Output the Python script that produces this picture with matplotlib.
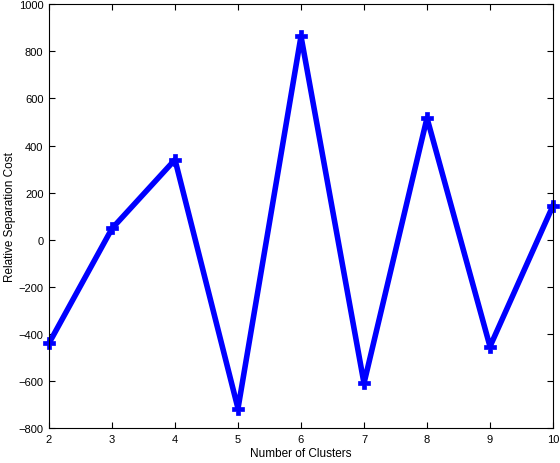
import numpy as np
import matplotlib
matplotlib.use('Agg')
import matplotlib.pyplot as plt

plt.rcParams['font.family'] = ['Liberation Sans', 'DejaVu Sans']

clusters = [2, 3, 4, 5, 6, 7, 8, 9, 10]
cost = [-439, 48, 340, -716, 864, -609, 517, -453, 145]

fig = plt.figure(figsize=(5.6, 4.64), dpi=100)
ax = fig.add_axes([0.0875, 0.0748, 0.9, 0.914])
ax.plot(clusters, cost, color='#0000ff', linewidth=4, marker='P',
        markersize=9, markeredgewidth=0.5, clip_on=False)
ax.set_xlim(2, 10)
ax.set_ylim(-800, 1000)
ax.set_xticks(clusters)
ax.set_yticks(np.arange(-800, 1001, 200))
ax.tick_params(direction='in', top=True, right=True, length=4,
               width=0.8, labelsize=8, pad=4)
for s in ax.spines.values():
    s.set_linewidth(0.8)
ax.set_xlabel('Number of Clusters', fontsize=8.5, labelpad=2)
ax.set_ylabel('Relative Separation Cost', fontsize=8.5, labelpad=2)

fig.savefig('out.png', dpi=100)
